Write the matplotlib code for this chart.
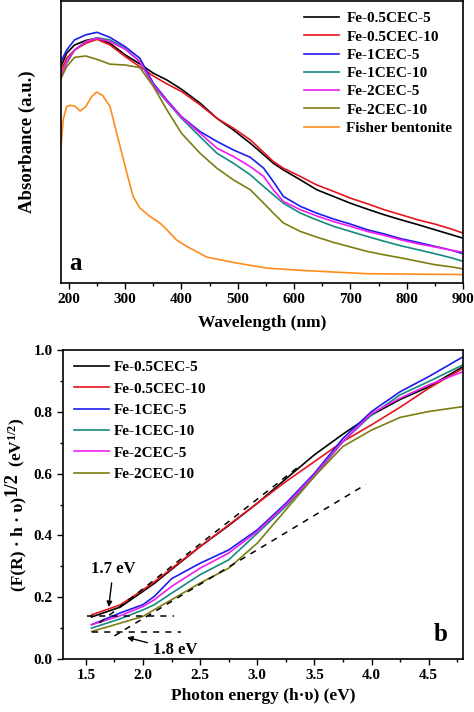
import matplotlib
matplotlib.use("Agg")
import matplotlib.pyplot as plt
from matplotlib.ticker import MultipleLocator

plt.rcParams['font.family'] = ['Liberation Serif', 'DejaVu Serif']
plt.rcParams['font.weight'] = 'bold'
plt.rcParams['mathtext.fontset'] = 'custom'
plt.rcParams['mathtext.rm'] = 'Liberation Serif:bold'
plt.rcParams['mathtext.bf'] = 'Liberation Serif:bold'
plt.rcParams['mathtext.it'] = 'Liberation Serif:bold:italic'
plt.rcParams['mathtext.default'] = 'rm'

# ---- panel a: UV-vis absorbance (arbitrary units) ----
wl = [186, 196, 210, 230, 250, 273, 300, 326, 350, 374, 400, 433, 463, 492, 522,
      546, 563, 581, 611, 640, 670, 700, 730, 760, 790, 820, 850, 880, 900]
abs_05_5 = [0.767, 0.815, 0.844, 0.860, 0.868, 0.850, 0.809, 0.777, 0.744, 0.720, 0.687,
            0.638, 0.584, 0.543, 0.496, 0.455, 0.425, 0.401, 0.366, 0.331, 0.307, 0.283,
            0.262, 0.242, 0.224, 0.207, 0.189, 0.171, 0.159]
abs_05_10 = [0.750, 0.797, 0.826, 0.850, 0.864, 0.844, 0.803, 0.767, 0.734, 0.706, 0.679,
             0.632, 0.584, 0.549, 0.508, 0.463, 0.431, 0.407, 0.378, 0.348, 0.325, 0.301,
             0.281, 0.260, 0.242, 0.224, 0.209, 0.191, 0.177]
abs_1_5 = [0.785, 0.826, 0.862, 0.880, 0.889, 0.871, 0.838, 0.797, 0.708, 0.649, 0.590,
           0.537, 0.502, 0.472, 0.446, 0.407, 0.360, 0.307, 0.272, 0.248, 0.227, 0.209,
           0.189, 0.174, 0.157, 0.144, 0.130, 0.116, 0.104]
abs_1_10 = [0.732, 0.779, 0.826, 0.856, 0.870, 0.862, 0.832, 0.785, 0.699, 0.643, 0.584,
            0.519, 0.460, 0.425, 0.384, 0.342, 0.313, 0.283, 0.248, 0.224, 0.201, 0.183,
            0.165, 0.148, 0.132, 0.118, 0.104, 0.089, 0.077]
abs_2_5 = [0.726, 0.785, 0.826, 0.856, 0.868, 0.856, 0.829, 0.785, 0.702, 0.646, 0.588,
           0.531, 0.478, 0.449, 0.413, 0.378, 0.331, 0.289, 0.260, 0.238, 0.218, 0.201,
           0.183, 0.169, 0.153, 0.139, 0.128, 0.116, 0.109]
abs_2_10 = [0.726, 0.767, 0.800, 0.805, 0.793, 0.776, 0.773, 0.764, 0.697, 0.614, 0.531,
            0.460, 0.407, 0.366, 0.331, 0.283, 0.248, 0.213, 0.183, 0.163, 0.144, 0.128,
            0.112, 0.100, 0.089, 0.077, 0.065, 0.057, 0.050]
wl_bent = [186, 190, 196, 202, 210, 220, 230, 240, 249, 260, 273, 285, 300, 314, 326,
           344, 362, 374, 391, 409, 445, 492, 551, 611, 729, 900]
abs_bent = [0.484, 0.580, 0.626, 0.630, 0.628, 0.610, 0.625, 0.660, 0.677, 0.665, 0.626,
            0.531, 0.413, 0.307, 0.266, 0.236, 0.212, 0.189, 0.153, 0.130, 0.092, 0.073,
            0.053, 0.045, 0.033, 0.030]

# ---- panel b: Kubelka-Munk ----
ev = [1.55, 1.8, 2.0, 2.1, 2.25, 2.5, 2.75, 3.0, 3.25, 3.5, 3.75, 4.0, 4.25, 4.5, 4.8]
km_05_5 = [0.136, 0.168, 0.219, 0.245, 0.290, 0.364, 0.432, 0.504, 0.583, 0.661, 0.728,
           0.790, 0.840, 0.881, 0.946]
km_05_10 = [0.143, 0.175, 0.224, 0.250, 0.293, 0.364, 0.434, 0.504, 0.574, 0.639, 0.704,
            0.758, 0.815, 0.876, 0.941]
km_1_5 = [0.111, 0.149, 0.176, 0.203, 0.260, 0.310, 0.353, 0.418, 0.504, 0.601, 0.714,
          0.801, 0.865, 0.914, 0.978]
km_1_10 = [0.100, 0.130, 0.159, 0.176, 0.213, 0.273, 0.321, 0.407, 0.494, 0.591, 0.704,
           0.790, 0.855, 0.898, 0.952]
km_2_5 = [0.111, 0.140, 0.170, 0.192, 0.235, 0.294, 0.343, 0.413, 0.499, 0.596, 0.704,
          0.795, 0.844, 0.887, 0.930]
km_2_10 = [0.089, 0.116, 0.138, 0.160, 0.192, 0.246, 0.294, 0.375, 0.483, 0.591, 0.688,
           0.741, 0.782, 0.801, 0.817]

labels = ['Fe-0.5CEC-5', 'Fe-0.5CEC-10', 'Fe-1CEC-5', 'Fe-1CEC-10', 'Fe-2CEC-5',
          'Fe-2CEC-10', 'Fisher bentonite']
colors = ['#000000', '#e8141c', '#1c1cf0', '#138a80', '#f01cf0', '#7d7d12', '#ff8c1a']

# tangent / baseline lines (x pairs, y pairs)
tan1_x, tan1_y = [1.62, 3.35], [0.117, 0.619]
base1_x, base1_y = [1.51, 2.27], [0.140, 0.140]
base2_x, base2_y = [1.55, 2.33], [0.089, 0.089]
tan2_x, tan2_y = [1.75, 3.95], [0.075, 0.565]

fig = plt.figure(figsize=(4.74, 7.12), dpi=100)

ax1 = fig.add_axes([0.1287, 0.6025, 0.8481, 0.3961])
series_a = [abs_05_5, abs_05_10, abs_1_5, abs_1_10, abs_2_5, abs_2_10]
for y, lab, c in zip(series_a, labels[:6], colors[:6]):
    ax1.plot(wl, y, color=c, lw=1.2, label=lab)
ax1.plot(wl_bent, abs_bent, color=colors[6], lw=1.2, label=labels[6])
ax1.set_xlim(186, 900)
ax1.set_ylim(0, 1)
ax1.xaxis.set_major_locator(MultipleLocator(100))
ax1.xaxis.set_minor_locator(MultipleLocator(50))
ax1.set_yticks([])
ax1.tick_params(axis='x', which='major', direction='out', length=4, width=1, labelsize=11)
ax1.tick_params(axis='x', which='minor', direction='out', length=2.5, width=1)
ax1.set_xlabel('Wavelength (nm)', fontsize=12.5, fontweight='bold', labelpad=6)
ax1.set_ylabel('Absorbance (a.u.)', fontsize=13.5, fontweight='bold')
ax1.yaxis.set_label_coords(-0.062, 0.5)
ax1.text(211, 0.068, 'a', fontsize=18, fontweight='bold', ha='center', va='center')
ax1.legend(loc='upper right', frameon=False, handlelength=2.3,
           handletextpad=0.45, labelspacing=0.3, borderaxespad=0.3,
           prop={'weight': 'bold', 'size': 11})
for s in ax1.spines.values():
    s.set_linewidth(1.2)

ax2 = fig.add_axes([0.1329, 0.0744, 0.8439, 0.4340])
series_b = [km_05_5, km_05_10, km_1_5, km_1_10, km_2_5, km_2_10]
for y, lab, c in zip(series_b, labels[:6], colors[:6]):
    ax2.plot(ev, y, color=c, lw=1.2, label=lab)
for xs, ys in [(tan1_x, tan1_y), (base1_x, base1_y), (base2_x, base2_y), (tan2_x, tan2_y)]:
    ax2.plot(xs, ys, color='black', lw=1.1, ls=(0, (4, 4)))
ax2.set_xlim(1.3, 4.8)
ax2.set_ylim(0, 1)
ax2.xaxis.set_major_locator(MultipleLocator(0.5))
ax2.xaxis.set_minor_locator(MultipleLocator(0.25))
ax2.yaxis.set_major_locator(MultipleLocator(0.2))
ax2.yaxis.set_minor_locator(MultipleLocator(0.1))
ax2.tick_params(which='major', direction='out', length=4, width=1, labelsize=11)
ax2.tick_params(which='minor', direction='out', length=2.5, width=1)
ax2.set_xlabel('Photon energy (h\u00b7\u03c5) (eV)', fontsize=12.5, fontweight='bold')
ax2.annotate('1.7 eV', xy=(1.7, 0.168), xytext=(1.74, 0.29), fontsize=12,
             fontweight='bold', ha='center', va='center',
             arrowprops=dict(arrowstyle='-|>', color='black', lw=1, shrinkB=0,
                             mutation_scale=8))
ax2.annotate('1.8 eV', xy=(1.86, 0.07), xytext=(2.28, 0.03), fontsize=12,
             fontweight='bold', ha='center', va='center',
             arrowprops=dict(arrowstyle='-|>', color='black', lw=1, shrinkB=0,
                             mutation_scale=8))
ax2.text(4.6, 0.079, 'b', fontsize=18, fontweight='bold', ha='center', va='center')
ax2.legend(loc='upper left', frameon=False, handlelength=2.3, handletextpad=0.35,
           labelspacing=0.5, borderaxespad=0.3, prop={'weight': 'bold', 'size': 11})
for s in ax2.spines.values():
    s.set_linewidth(1.2)

# y label of panel b, built from pieces so the first 1/2 can be large
fig.canvas.draw()
r = fig.canvas.get_renderer()
W, H = fig.bbox.width, fig.bbox.height
base_x = 22.0
kw = dict(rotation=90, rotation_mode='anchor', ha='left', va='baseline',
          fontweight='bold', transform=None)
p1 = fig.text(base_x, 0, '(F(R) \u00b7 h \u00b7 \u03c5)', fontsize=12.5, **kw)
b1 = p1.get_window_extent(r)
p2 = fig.text(base_x - 5, b1.y1 + 1, '1/2', fontsize=13.5, **kw)
b2 = p2.get_window_extent(r)
p3 = fig.text(base_x, b2.y1 + 1, ' (eV$^{1/2}$)', fontsize=12.5, **kw)
b3 = p3.get_window_extent(r)
# centre the whole label on the axes
ax_bb = ax2.get_window_extent(r)
shift = (ax_bb.y0 + ax_bb.y1) / 2 - (b1.y0 + b3.y1) / 2
for p in (p1, p2, p3):
    x, y = p.get_position()
    p.set_position((x, y + shift))

fig.savefig('out.png', dpi=100)
